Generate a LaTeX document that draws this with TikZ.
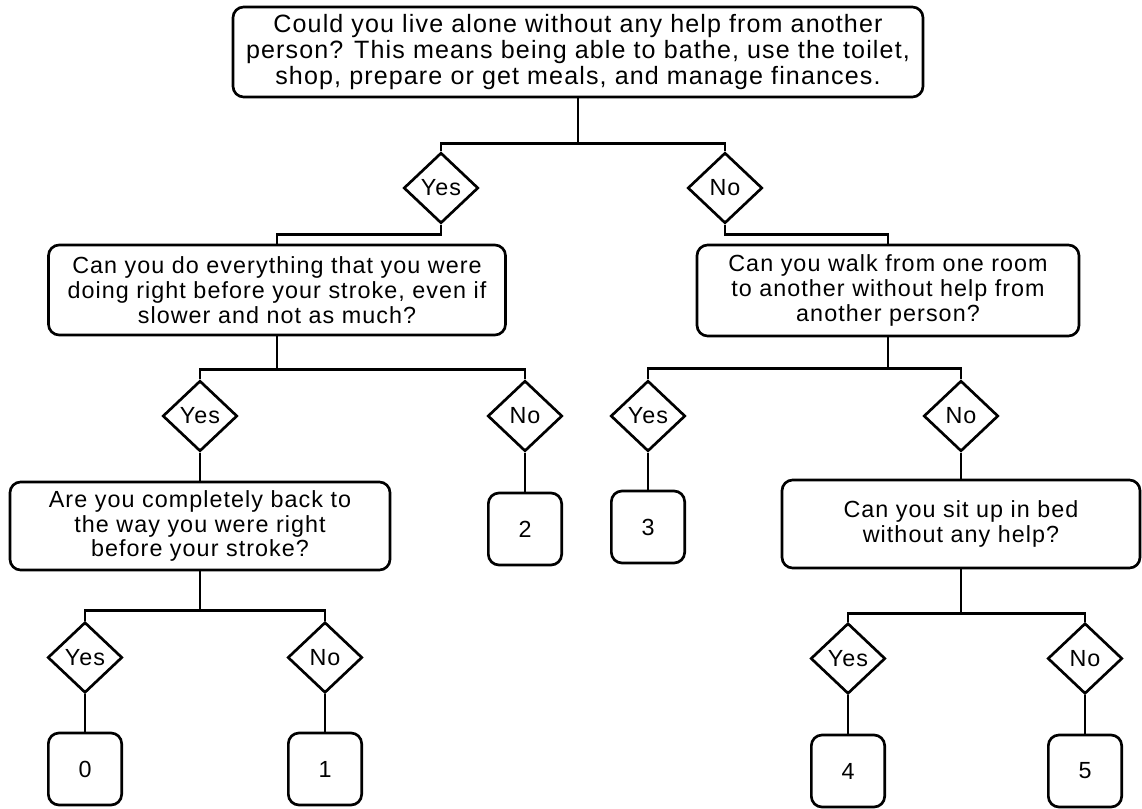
\documentclass[tikz,border=0pt]{standalone}
\usepackage{fontspec}
\setmainfont{Liberation Sans}[LetterSpace=4.5]
\usetikzlibrary{shapes.geometric}

\begin{document}
\begin{tikzpicture}[x=0.75pt, y=-0.75pt,
    every node/.style={font=\fontsize{17.5pt}{18.5pt}\selectfont},
    question/.style={draw, line width=2pt, rounded corners=8pt, align=center, inner sep=0pt},
    reply/.style={draw, diamond, line width=2pt, inner sep=0pt, minimum width=56pt, minimum height=53pt},
    score/.style={draw, line width=2pt, rounded corners=8pt, minimum width=55pt, minimum height=54pt},
    link/.style={line width=2pt}]
    \useasboundingbox (0,0) rectangle (1142,809);

    % Questions
    \node[question, minimum width=517.5pt, minimum height=67.5pt, font=\fontsize{18.8pt}{19.5pt}\selectfont] (qlive) at (578,52)
        {Could you live alone without any help from another\\person? This means being able to bathe, use the toilet,\\shop, prepare or get meals, and manage finances.};
    \node[question, minimum width=342.75pt, minimum height=67.5pt] (qdo) at (277,290)
        {Can you do everything that you were\\doing right before your stroke, even if\\slower and not as much?};
    \node[question, minimum width=286.5pt, minimum height=68.25pt] (qwalk) at (888,290.5)
        {Can you walk from one room\\to another without help from\\another person?};
    \node[question, minimum width=285pt, minimum height=66pt] (qback) at (200,526)
        {Are you completely back to\\the way you were right\\before your stroke?};
    \node[question, minimum width=268.5pt, minimum height=66pt] (qsit) at (961,524)
        {Can you sit up in bed\\without any help?};

    % Yes / No answers
    \node[reply] (yes1) at (441,188) {Yes};
    \node[reply] (no1) at (725,188) {No};
    \node[reply] (yes2) at (200,416) {Yes};
    \node[reply] (no2) at (525,416) {No};
    \node[reply] (yes3) at (648,416) {Yes};
    \node[reply] (no3) at (961,416) {No};
    \node[reply] (yes4) at (85,657.5) {Yes};
    \node[reply] (no4) at (325,657.5) {No};
    \node[reply] (yes5) at (848,658.5) {Yes};
    \node[reply] (no5) at (1085,658.5) {No};

    % Scores
    \node[score] (s0) at (85,769) {0};
    \node[score] (s1) at (325,769) {1};
    \node[score] (s2) at (525,529) {2};
    \node[score] (s3) at (648,527) {3};
    \node[score] (s4) at (848,771) {4};
    \node[score] (s5) at (1085,771) {5};

    % Draw connectors
    \draw[link] (qlive.south) -- ++(0,45) coordinate (bar1);
    \draw[link] (yes1.north) |- (bar1) -| (no1.north);
    \draw[link] (yes1.south) -- ++(0,10) -| (qdo.north);
    \draw[link] (no1.south) -- ++(0,10) -| (qwalk.north);

    \draw[link] (qdo.south) -- ++(0,33) coordinate (bar2);
    \draw[link] (yes2.north) |- (bar2) -| (no2.north);
    \draw[link] (qwalk.south) -- ++(0,31) coordinate (bar3);
    \draw[link] (yes3.north) |- (bar3) -| (no3.north);

    \draw[link] (yes2.south) -- (qback.north);
    \draw[link] (no2.south) -- (s2.north);
    \draw[link] (yes3.south) -- (s3.north);
    \draw[link] (no3.south) -- (qsit.north);

    \draw[link] (qback.south) -- ++(0,39) coordinate (bar4);
    \draw[link] (yes4.north) |- (bar4) -| (no4.north);
    \draw[link] (qsit.south) -- ++(0,44) coordinate (bar5);
    \draw[link] (yes5.north) |- (bar5) -| (no5.north);

    \draw[link] (yes4.south) -- (s0.north);
    \draw[link] (no4.south) -- (s1.north);
    \draw[link] (yes5.south) -- (s4.north);
    \draw[link] (no5.south) -- (s5.north);
\end{tikzpicture}
\end{document}
